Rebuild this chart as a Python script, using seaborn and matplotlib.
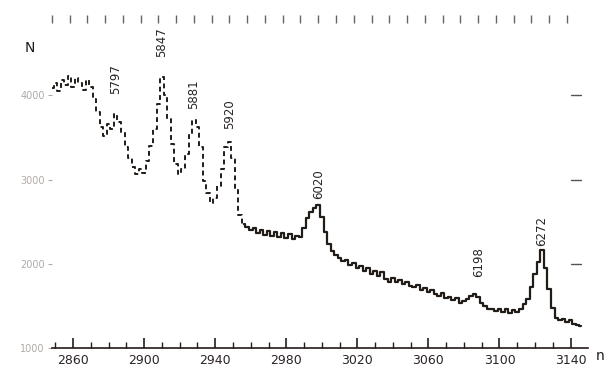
import numpy as np
import pandas as pd
import matplotlib
matplotlib.use("Agg")
import matplotlib.pyplot as plt
import seaborn as sns

channels = list(range(2848, 3148, 2))
counts = [
    4080, 4150, 4050, 4180, 4120, 4230, 4100, 4200, 4150, 4060,
    4180, 4100, 3950, 3800, 3620, 3520, 3660, 3600, 3780, 3680,
    3560, 3380, 3250, 3150, 3060, 3120, 3080, 3220, 3400, 3600,
    3900, 4220, 4000, 3720, 3420, 3180, 3060, 3120, 3300, 3550,
    3700, 3620, 3380, 2980, 2840, 2720, 2780, 2920, 3120, 3380,
    3440, 3250, 2900, 2580, 2470, 2440, 2400, 2430, 2360, 2400,
    2340, 2390, 2330, 2380, 2320, 2370, 2310, 2350, 2300, 2330,
    2320, 2420, 2540, 2610, 2660, 2700, 2560, 2380, 2240, 2150,
    2100, 2070, 2030, 2050, 1990, 2010, 1950, 1980, 1910, 1950,
    1880, 1920, 1860, 1900, 1820, 1790, 1830, 1780, 1810, 1760,
    1790, 1740, 1720, 1750, 1690, 1710, 1660, 1690, 1640, 1620,
    1650, 1590, 1610, 1570, 1590, 1540, 1560, 1580, 1620, 1640,
    1610, 1530, 1500, 1470, 1460, 1440, 1470, 1430, 1460, 1420,
    1450, 1430, 1470, 1520, 1580, 1720, 1880, 2020, 2160, 1950,
    1700, 1480, 1360, 1330, 1350, 1310, 1330, 1290, 1280, 1260,
]

# picos identificados
peak_labels = ["5797", "5847", "5881", "5920", "6020", "6198", "6272"]
peak_channels = [2884, 2910, 2928, 2948, 2998, 3088, 3124]

x_ticks_labels = [2860, 2900, 2940, 2980, 3020, 3060, 3100, 3140]
y_ticks_labels = [1000, 2000, 3000, 4000]

df = pd.DataFrame({"n": channels, "N": counts})

sns.set_style("white")
plt.rcParams["font.family"] = ["DejaVu Sans"]

fig = plt.figure(figsize=(6.09, 3.68), dpi=100)
ax = fig.add_axes([0.085, 0.054, 0.881, 0.905])

ink = "#221c19"
# parte esquerda aparece tracejada (impressao fraca)
left = df[df["n"] <= 2956]
right = df[df["n"] >= 2956]
sns.lineplot(data=left, x="n", y="N", ax=ax, color=ink, lw=1.4,
             drawstyle="steps-mid", linestyle=(0, (2.5, 1.8)))
sns.lineplot(data=right, x="n", y="N", ax=ax, color=ink, lw=1.6,
             drawstyle="steps-mid")

# rotulos dos picos
offsets = [14, 14, 8, 10, 4, 14, 3]
for lab, ch, off in zip(peak_labels, peak_channels, offsets):
    yv = df.loc[df["n"] == ch, "N"].iloc[0]
    ax.annotate(lab, (ch, yv), xytext=(0, off), textcoords="offset points",
                rotation=90, ha="center", va="bottom", fontsize=8.5,
                color="#2a2422")

ax.set_xlim(2848, 3150)
ax.set_ylim(1000, 4950)

ax.set_xticks(x_ticks_labels)
ax.set_xticklabels([str(v) for v in x_ticks_labels], fontsize=9, color="#2a2422")
ax.set_xticks(np.arange(2850, 3150, 10), minor=True)
ax.tick_params(axis="x", which="major", direction="in", length=7, width=1.2,
               pad=4, bottom=True, top=False, color=ink)
ax.tick_params(axis="x", which="minor", direction="in", length=4, width=1.0,
               bottom=True, top=False, color=ink)

ax.set_yticks(y_ticks_labels)
ax.set_yticklabels([str(v) for v in y_ticks_labels], fontsize=7, color="#b0aaa6")
ax.tick_params(axis="y", which="major", direction="out", length=3, width=0.8,
               left=True, right=False, color="#b0aaa6", pad=2)

for side in ["left", "right", "top"]:
    ax.spines[side].set_visible(False)
ax.spines["bottom"].set_color(ink)
ax.spines["bottom"].set_linewidth(1.2)

# marcas do eixo superior
top = ax.secondary_xaxis("top")
top.set_xticks(np.arange(2848, 3145, 10))
top.set_xticklabels([])
top.tick_params(direction="in", length=6, width=1.0, color="#6a625e")
top.spines["top"].set_visible(False)

# marcas curtas na direita (dentro do grafico)
for yv in y_ticks_labels[1:]:
    ax.plot([3140, 3146], [yv, yv], color="#5a524e", lw=1.0)

ax.set_xlabel("")
ax.set_ylabel("")
fig.text(30 / 609, 1 - 48 / 368, "N", fontsize=10, ha="center", va="center",
         color="#1e1a18")
fig.text(600 / 609, 1 - 356 / 368, "n", fontsize=10, ha="center", va="center",
         color="#1e1a18")

fig.savefig("out.png", dpi=100, facecolor="white")
